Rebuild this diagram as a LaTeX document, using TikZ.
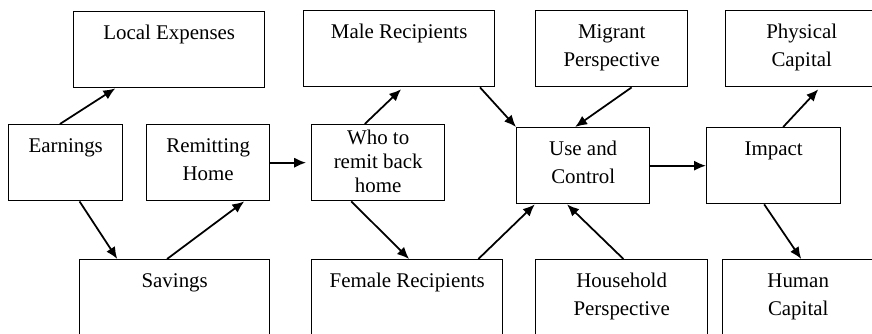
\documentclass[tikz,border=0pt]{standalone}
\usepackage{fontspec}
\setmainfont{Liberation Serif}
\usetikzlibrary{arrows.meta, calc}

\begin{document}
\begin{tikzpicture}[x=0.02cm, y=-0.02cm,
        box/.style={draw, line width=0.8pt, anchor=north west, align=center, inner sep=0pt,
            minimum height=1.52cm, font=\fontsize{11.9}{15.9}\selectfont,
            text height=0.56cm, text depth=0.96cm},
        twoline/.style={text height=1.12cm, text depth=0.4cm},
        arr/.style={-{Latex[length=6.8pt, width=5.8pt]}, line width=1pt}]

        % Khung hình (các ô dưới cùng và bên phải bị cắt)
        \useasboundingbox (0,0) rectangle (872,334);
        \clip (0,0) rectangle (872,334);

        % Cột 1: thu nhập và chi tiêu
        \node[box, minimum width=3.82cm] (locexp) at (73,11) {Local Expenses};
        \node[box, minimum width=2.28cm] (earn) at (8,124) {Earnings};
        \node[box, twoline, minimum width=2.46cm] (remit) at (146,124) {Remitting\\Home};
        \node[box, minimum width=3.80cm] (sav) at (79,259) {Savings};

        % Cột 2: người nhận
        \node[box, minimum width=3.82cm] (male) at (303,10) {Male Recipients};
        \node[box, minimum width=2.66cm, font=\fontsize{11.9}{13.6}\selectfont,
            text height=1.36cm, text depth=0.16cm] (who) at (311,124) {Who to\\remit back\\home};
        \node[box, minimum width=3.82cm] (female) at (311,259) {Female Recipients};

        % Cột 3: sử dụng và kiểm soát
        \node[box, twoline, minimum width=3.04cm] (migr) at (535,10) {Migrant\\Perspective};
        \node[box, twoline, minimum width=2.66cm] (use) at (516,127) {Use and\\Control};
        \node[box, twoline, minimum width=3.44cm] (house) at (535,259) {Household\\Perspective};

        % Cột 4: tác động
        \node[box, twoline, minimum width=3.04cm] (phys) at (725,10) {Physical\\Capital};
        \node[box, minimum width=2.68cm] (impact) at (706,127) {Impact};
        \node[box, twoline, minimum width=3.02cm] (human) at (722,259) {Human\\Capital};

        % Mũi tên
        \draw[arr] ($(earn.north west)!0.45!(earn.north east)$) -- ($(locexp.south west)!0.22!(locexp.south east)$);
        \draw[arr] ($(earn.south west)!0.62!(earn.south east)$) -- ($(sav.north west)!0.2!(sav.north east)$);
        \draw[arr] ($(sav.north west)!0.46!(sav.north east)$) -- ($(remit.south west)!0.79!(remit.south east)$);
        \draw[arr, shorten >=2.8pt] (remit.east) -- (remit.east -| who.west);
        \draw[arr, shorten >=1.5pt] ($(who.north west)!0.4!(who.north east)$) -- ($(male.south west)!0.52!(male.south east)$);
        \draw[arr] ($(who.south west)!0.3!(who.south east)$) -- ($(female.north west)!0.51!(female.north east)$);
        \draw[arr] ($(male.south west)!0.92!(male.south east)$) -- (use.north west);
        \draw[arr] ($(migr.south west)!0.63!(migr.south east)$) -- ($(use.north west)!0.44!(use.north east)$);
        \draw[arr] ($(female.north west)!0.87!(female.north east)$) -- ($(use.south west)!0.14!(use.south east)$);
        \draw[arr] ($(house.north west)!0.51!(house.north east)$) -- ($(use.south west)!0.38!(use.south east)$);
        \draw[arr] (use.east) -- (use.east -| impact.west);
        \draw[arr, shorten >=1.5pt] ($(impact.north west)!0.57!(impact.north east)$) -- ($(phys.south west)!0.62!(phys.south east)$);
        \draw[arr] ($(impact.south west)!0.43!(impact.south east)$) -- ($(human.north west)!0.52!(human.north east)$);
    \end{tikzpicture}
\end{document}
